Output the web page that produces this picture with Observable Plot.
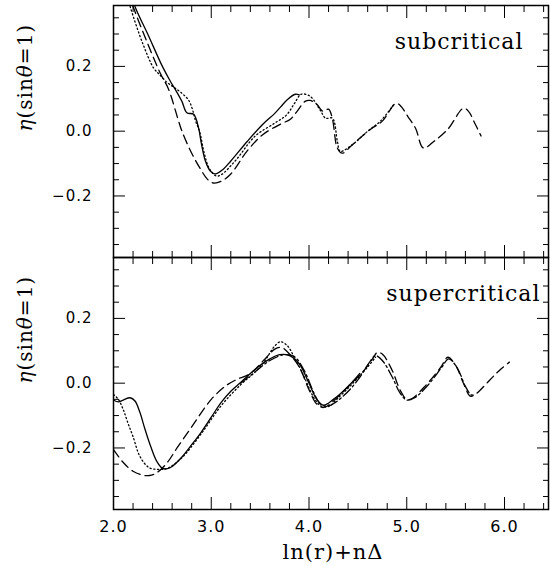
<!DOCTYPE html>
<html><head><meta charset="utf-8">
<script src="https://cdn.jsdelivr.net/npm/d3@7"></script>
<script src="https://cdn.jsdelivr.net/npm/@observablehq/plot@0.6"></script>
<style>
body{margin:0;background:#fff;}
#chart{width:550px;height:565px;overflow:hidden;}
#chart svg{display:block;overflow:visible;}
</style>
</head><body><div id="chart"></div>
<script>
// ---- tick values & labels ----
const xMajorTicks = [2, 3, 4, 5, 6];
const xTickLabels = ["2.0", "3.0", "4.0", "5.0", "6.0"];
const xMinorTicks = [2.2, 2.4, 2.6, 2.8, 3.2, 3.4, 3.6, 3.8, 4.2, 4.4, 4.6, 4.8, 5.2, 5.4, 5.6, 5.8, 6.2, 6.4];
const yMajorTicks = [-0.2, 0, 0.2];
const yTickLabels = ["\u22120.2", "0.0", "0.2"];
const yMinorTicks = [-0.35, -0.3, -0.25, -0.15, -0.1, -0.05, 0.05, 0.1, 0.15, 0.25, 0.3, 0.35];
const xLabelText = "ln(r)+n\u0394";
const yLabelText = "\u03b7(sin\u03b8=1)";
const panelLabels = ["subcritical", "supercritical"];

// ---- subcritical panel ----
const subSolidX = [2.18,2.22,2.35,2.50,2.58,2.63,2.70,2.75,2.82,2.87,2.90,2.94,2.99,3.04,3.12,3.20,3.37,3.53,3.65,3.71,3.78,3.86,3.90];
const subSolidY = [0.43,0.385,0.30,0.20,0.155,0.13,0.092,0.057,0.052,0.01,-0.04,-0.092,-0.123,-0.132,-0.118,-0.092,-0.031,0.022,0.055,0.075,0.098,0.114,0.112];
const subDottedX = [2.13,2.17,2.30,2.41,2.47,2.55,2.62,2.70,2.77,2.81,2.84,2.88,2.93,2.98,3.05,3.10,3.25,3.45,3.65,3.77,3.85,3.92,4.01,4.12,4.17,4.24,4.29,4.32,4.45,4.60,4.73,4.87];
const subDottedY = [0.43,0.385,0.27,0.195,0.175,0.15,0.135,0.117,0.095,0.065,0.031,0.0,-0.07,-0.115,-0.138,-0.135,-0.09,-0.015,0.025,0.05,0.085,0.114,0.108,0.062,0.04,0.04,-0.031,-0.062,-0.04,0.0,0.031,0.083];
const subDashedX = [2.15,2.20,2.35,2.48,2.56,2.66,2.70,2.79,2.89,2.96,3.02,3.10,3.20,3.37,3.53,3.71,3.81,3.88,3.96,4.01,4.08,4.14,4.20,4.24,4.29,4.34,4.45,4.63,4.75,4.89,4.94,5.01,5.09,5.17,5.28,5.42,5.58,5.63,5.70,5.76];
const subDashedY = [0.43,0.385,0.27,0.178,0.132,0.037,0.0,-0.062,-0.117,-0.148,-0.16,-0.155,-0.132,-0.06,-0.01,0.022,0.037,0.062,0.092,0.095,0.083,0.062,0.068,0.037,-0.052,-0.068,-0.04,0.006,0.031,0.086,0.077,0.046,0.009,-0.052,-0.031,0.006,0.071,0.062,0.022,-0.015];

// ---- supercritical panel ----
const supSolidX = [2.00,2.05,2.10,2.17,2.22,2.27,2.32,2.38,2.44,2.50,2.55,2.60,2.70,2.80,2.90,3.00,3.10,3.20,3.30,3.40,3.50,3.60,3.70,3.80,3.90,4.00,4.08,4.15,4.25,4.40,4.52];
const supSolidY = [-0.052,-0.058,-0.052,-0.045,-0.055,-0.09,-0.14,-0.195,-0.24,-0.263,-0.264,-0.257,-0.228,-0.19,-0.15,-0.105,-0.06,-0.025,0.002,0.03,0.055,0.075,0.088,0.085,0.06,0.0,-0.05,-0.068,-0.05,-0.01,0.03];
const supDottedX = [2.00,2.05,2.10,2.15,2.20,2.27,2.36,2.45,2.55,2.70,2.90,3.10,3.30,3.45,3.55,3.65,3.71,3.78,3.85,3.95,4.05,4.12,4.20,4.30,4.45,4.60,4.68];
const supDottedY = [-0.035,-0.05,-0.082,-0.125,-0.165,-0.226,-0.26,-0.266,-0.263,-0.23,-0.155,-0.07,-0.005,0.035,0.07,0.115,0.128,0.115,0.08,0.02,-0.045,-0.07,-0.072,-0.045,0.0,0.05,0.08];
const supDashedX = [2.00,2.10,2.20,2.30,2.37,2.45,2.55,2.65,2.80,3.00,3.15,3.25,3.40,3.55,3.65,3.72,3.80,3.90,4.00,4.08,4.15,4.25,4.40,4.55,4.65,4.70,4.75,4.85,4.93,5.00,5.05,5.20,5.35,5.42,5.50,5.58,5.65,5.70,5.85,5.95,6.05];
const supDashedY = [-0.205,-0.245,-0.272,-0.284,-0.285,-0.275,-0.245,-0.2,-0.135,-0.05,-0.008,0.01,0.03,0.075,0.105,0.11,0.09,0.05,-0.02,-0.065,-0.075,-0.055,-0.01,0.035,0.075,0.095,0.09,0.04,-0.02,-0.05,-0.048,-0.005,0.05,0.08,0.055,0.0,-0.04,-0.035,0.01,0.04,0.065];
const supDashDotX = [3.30,3.45,3.60,3.75,3.85,3.95,4.05,4.12,4.20,4.35,4.50,4.62,4.68,4.75,4.85,4.93,5.00,5.08,5.22,5.36,5.43,5.52,5.60,5.66,5.70];
const supDashDotY = [0.0,0.035,0.07,0.088,0.082,0.04,-0.03,-0.065,-0.07,-0.04,0.01,0.065,0.085,0.07,0.02,-0.03,-0.052,-0.045,-0.005,0.05,0.075,0.045,-0.01,-0.036,-0.035];

const zip = (xs, ys) => xs.map((x, i) => ({x, y: ys[i]}));

const DOT = "1.2,2.6", DASH = "9,5", DASHDOT = "10,3,2,3";
const panels = [
  {label: panelLabels[0], labelDx: -25, marginTop: 5, marginBottom: 0, height: 257, showX: false,
   series: [
     {data: zip(subSolidX, subSolidY), dash: null},
     {data: zip(subDottedX, subDottedY), dash: DOT},
     {data: zip(subDashedX, subDashedY), dash: DASH}
   ]},
  {label: panelLabels[1], labelDx: -8, marginTop: 0, marginBottom: 56, height: 308, showX: true,
   series: [
     {data: zip(supSolidX, supSolidY), dash: null},
     {data: zip(supDottedX, supDottedY), dash: DOT},
     {data: zip(supDashedX, supDashedY), dash: DASH},
     {data: zip(supDashDotX, supDashDotY), dash: DASHDOT}
   ]}
];

const chart = document.getElementById("chart");
for (const p of panels) {
  const marks = [
    ...p.series.map(s => Plot.line(s.data, {x: "x", y: "y", stroke: "black", strokeWidth: 1.3,
      strokeDasharray: s.dash, curve: "catmull-rom", clip: true})),
    Plot.frame({stroke: "black", strokeWidth: 1.5}),
    Plot.axisX(xMajorTicks, {anchor: "bottom", tickSize: -12, fill: "none", label: null}),
    Plot.axisX(xMinorTicks, {anchor: "bottom", tickSize: -6, fill: "none", label: null}),
    Plot.axisX(xMajorTicks, {anchor: "top", tickSize: -12, fill: "none", label: null}),
    Plot.axisX(xMinorTicks, {anchor: "top", tickSize: -6, fill: "none", label: null}),
    Plot.axisY(yMajorTicks, {anchor: "left", tickSize: -12, fill: "none", label: null}),
    Plot.axisY(yMinorTicks, {anchor: "left", tickSize: -6, fill: "none", label: null}),
    Plot.axisY(yMajorTicks, {anchor: "right", tickSize: -12, fill: "none", label: null}),
    Plot.axisY(yMinorTicks, {anchor: "right", tickSize: -6, fill: "none", label: null}),
    Plot.axisY(yMajorTicks, {anchor: "left", tickSize: 0, tickPadding: 21, label: null,
      tickFormat: d => yTickLabels[yMajorTicks.indexOf(d)], fontSize: 15, fontFamily: "DejaVu Sans"}),
    Plot.text([yLabelText], {text: d => d, frameAnchor: "left", rotate: -90, dx: -88,
      fontSize: 20, fontFamily: "DejaVu Serif"}),
    Plot.text([p.label], {text: d => d, frameAnchor: "top-right", textAnchor: "end", lineAnchor: "bottom",
      dx: p.labelDx, dy: 43, fontSize: 22, fontFamily: "DejaVu Serif"})
  ];
  if (p.showX) {
    marks.push(
      Plot.axisX(xMajorTicks, {anchor: "bottom", tickSize: 0, tickPadding: 11, label: null,
        tickFormat: d => xTickLabels[xMajorTicks.indexOf(d)], fontSize: 16, fontFamily: "DejaVu Sans"}),
      Plot.text([xLabelText], {text: d => d, frameAnchor: "bottom", dy: 49, dx: 2,
        fontSize: 21, fontFamily: "DejaVu Serif"})
    );
  }
  const svg = Plot.plot({
    width: 550, height: p.height,
    marginLeft: 113, marginRight: 2, marginTop: p.marginTop, marginBottom: p.marginBottom,
    x: {domain: [2, 6.45], axis: null},
    y: {domain: [-0.39, 0.388], axis: null},
    style: {background: "white", color: "black", letterSpacing: "1px", overflow: "visible"},
    marks
  });
  d3.select(svg).selectAll("text").filter(function() { return this.textContent === yLabelText; })
    .each(function() {
      const t = d3.select(this);
      t.text("");
      t.append("tspan").attr("font-style", "italic").text("\u03b7");
      t.append("tspan").text("(sin");
      t.append("tspan").attr("font-style", "italic").text("\u03b8");
      t.append("tspan").text("=1)");
    });
  chart.appendChild(svg);
}
</script>
</body></html>
